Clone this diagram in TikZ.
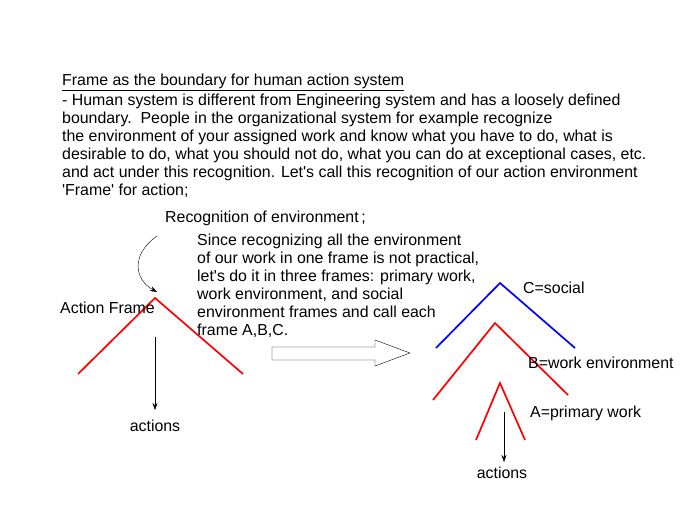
\documentclass[tikz,border=0pt]{standalone}
\usepackage{fontspec}
\setmainfont{Liberation Sans}
\usepackage{textcomp}
\usetikzlibrary{arrows.meta}
\tikzset{
  txt/.style={anchor=west,inner sep=0pt,font=\fontsize{15.9}{18}\selectfont},
  frm/.style={line width=1.7pt},
  act/.style={-{Stealth[length=7pt,width=5pt]}}
}
\begin{document}
\begin{tikzpicture}[x=1pt,y=-1pt]
\useasboundingbox (0,0) rectangle (696,524);
% header text
\node[txt] (title) at (62,82) {\underline{Frame as the boundary for human action system}};
\node[txt,align=left,anchor=north west] (para) at (62,94) {- Human system is different from Engineering system and has a loosely defined\\
boundary.~~People in the organizational system for example recognize\\
the environment of your assigned work and know what you have to do, what is\\
desirable to do, what you should not do, what you can do at exceptional cases, etc.\\
and act under this recognition. Let\textquotesingle s call this recognition of our action environment\\
\textquotesingle Frame\textquotesingle{} for action;};
% left frame
\node[txt] (recog) at (165,218) {Recognition of environment\,;};
\node[txt,align=left,anchor=north west] (since) at (197,234) {Since recognizing all the environment\\
of our work in one frame is not practical,\\
let\textquotesingle s do it in three frames: primary work,\\
work environment, and social\\
environment frames and call each\\
frame A,B,C.};
\draw[frm,red] (78,374) -- (155,298) coordinate (top) -- (243,374);
\node[txt] (aframe) at (60,308) {Action Frame};
\coordinate (cs) at (157,236);
\draw[act] (cs) .. controls (130,255) and (135,280) .. (157,292);
\coordinate (as) at (155,337);
\node[txt,anchor=center] (act1) at (155,426) {actions};
\draw[act] (as) -- (155,410);
% hollow arrow
\draw (272,347) -- (375,347) -- (375,340) -- (410,353) -- (375,366) -- (375,360) -- (272,360) -- cycle;
% right frames
\draw[frm,blue] (436,348) -- (500,283) -- (575,348);
\node[txt] (csoc) at (523,288) {C=social};
\draw[frm,red] (433,400) -- (495,323) -- (568,395);
\node[txt] (bwork) at (528,363) {B=work environment};
\draw[frm,red] (476,440) -- (500,383) -- (525,440);
\node[txt] (aprim) at (530,413) {A=primary work};
\coordinate (as2) at (504,412);
\node[txt,anchor=center] (act2) at (502,473) {actions};
\draw[act] (as2) -- (504,462);
\end{tikzpicture}
\end{document}
